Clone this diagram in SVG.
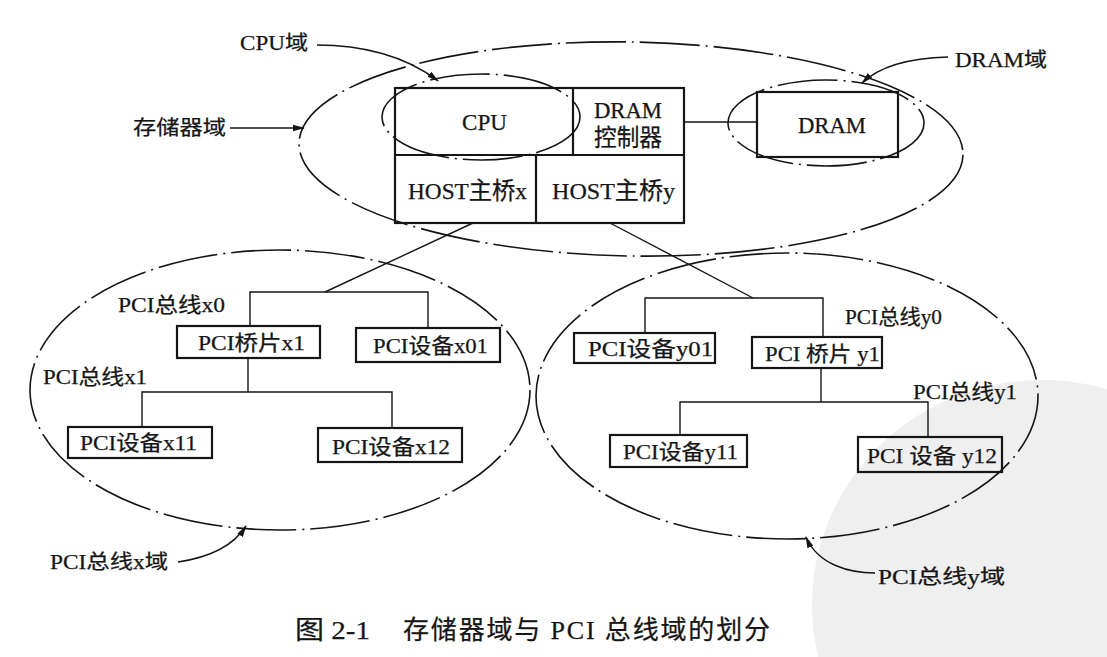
<svg xmlns="http://www.w3.org/2000/svg" width="1107" height="657" viewBox="0 0 1107 657">
<defs>
<style>
.t{font-family:'Liberation Serif','Noto Sans CJK SC',serif;fill:#151515;stroke:#151515;stroke-width:0.25}
.b{font-size:24px}
.l{font-size:21px}
.d{font-size:20px}
.c{font-size:26px}
.box{fill:none;stroke:#151515;stroke-width:2.2}
.dom{fill:none;stroke:#151515;stroke-width:1.6;stroke-dasharray:60 6 2 6}
.ln{fill:none;stroke:#151515;stroke-width:1.4}
</style>
<marker id="ah" viewBox="0 0 12 10" refX="11" refY="5" markerWidth="12" markerHeight="10" markerUnits="userSpaceOnUse" orient="auto"><path d="M0,1.8 L12,5 L0,8.2 z" fill="#151515"/></marker>
</defs>
<rect width="1107" height="657" fill="#fff"/>
<g id="watermark"><ellipse cx="1042" cy="605" rx="230" ry="225" fill="#efefef"/></g>

<g id="storage-domain"><ellipse class="dom" cx="631" cy="149" rx="332" ry="107" transform="rotate(1 631 149)"/></g>
<g id="pci-x-domain"><ellipse class="dom" cx="280" cy="390" rx="250" ry="140"/></g>
<g id="pci-y-domain"><ellipse class="dom" cx="787" cy="396" rx="251" ry="143"/></g>

<g id="host-block">
<rect class="box" x="395" y="88" width="289" height="135"/>
<path class="box" d="M573,88 L573,155 M395,155 L684,155 M536,155 L536,223"/>
</g>
<g id="cpu"><text class="t b" x="462" y="130" textLength="45" lengthAdjust="spacingAndGlyphs">CPU</text></g>
<g id="dram-ctrl"><text class="t b" x="594" y="118" textLength="68" lengthAdjust="spacingAndGlyphs">DRAM</text><text class="t b" x="594" y="146" textLength="68" lengthAdjust="spacingAndGlyphs">控制器</text></g>
<g id="host-x"><text class="t b" x="408" y="199" textLength="119" lengthAdjust="spacingAndGlyphs">HOST主桥x</text></g>
<g id="host-y"><text class="t b" x="552" y="199" textLength="123" lengthAdjust="spacingAndGlyphs">HOST主桥y</text></g>
<g id="cpu-domain"><ellipse class="dom" cx="481" cy="117" rx="99" ry="43"/></g>
<g id="dram"><rect class="box" x="757" y="92" width="141" height="65"/><text class="t b" x="798" y="133" textLength="68" lengthAdjust="spacingAndGlyphs">DRAM</text></g>
<g id="dram-domain"><ellipse class="dom" cx="826" cy="123" rx="98" ry="43"/></g>

<g id="bridge-x1"><rect class="box" x="177" y="326" width="143" height="32"/><text class="t l" x="198" y="350" textLength="107" lengthAdjust="spacingAndGlyphs">PCI桥片x1</text></g>
<g id="dev-x01"><rect class="box" x="356" y="328" width="144" height="34"/><text class="t l" x="373" y="353" textLength="115" lengthAdjust="spacingAndGlyphs">PCI设备x01</text></g>
<g id="dev-x11"><rect class="box" x="68" y="427" width="144" height="31"/><text class="t l" x="80" y="450" textLength="117" lengthAdjust="spacingAndGlyphs">PCI设备x11</text></g>
<g id="dev-x12"><rect class="box" x="318" y="428" width="144" height="34"/><text class="t l" x="332" y="454" textLength="118" lengthAdjust="spacingAndGlyphs">PCI设备x12</text></g>
<g id="dev-y01"><rect class="box" x="574" y="333" width="141" height="30"/><text class="t l" x="588" y="356" textLength="125" lengthAdjust="spacingAndGlyphs">PCI设备y01</text></g>
<g id="bridge-y1"><rect class="box" x="752" y="337" width="130" height="31"/><text class="t l" x="765" y="361" textLength="115" lengthAdjust="spacingAndGlyphs">PCI 桥片 y1</text></g>
<g id="dev-y11"><rect class="box" x="610" y="435" width="137" height="32"/><text class="t l" x="623" y="459" textLength="115" lengthAdjust="spacingAndGlyphs">PCI设备y11</text></g>
<g id="dev-y12"><rect class="box" x="858" y="437" width="144" height="35"/><text class="t l" x="867" y="463" textLength="130" lengthAdjust="spacingAndGlyphs">PCI 设备 y12</text></g>

<g id="labels">
<text class="t d" x="240" y="50" textLength="68" lengthAdjust="spacingAndGlyphs">CPU域</text>
<text class="t d" x="133" y="135" textLength="93" lengthAdjust="spacingAndGlyphs">存储器域</text>
<text class="t d" x="955" y="67" textLength="92" lengthAdjust="spacingAndGlyphs">DRAM域</text>
<text class="t l" x="118" y="312" textLength="107" lengthAdjust="spacingAndGlyphs">PCI总线x0</text>
<text class="t l" x="43" y="384" textLength="104" lengthAdjust="spacingAndGlyphs">PCI总线x1</text>
<text class="t l" x="845" y="324" textLength="97" lengthAdjust="spacingAndGlyphs">PCI总线y0</text>
<text class="t l" x="913" y="399" textLength="104" lengthAdjust="spacingAndGlyphs">PCI总线y1</text>
<text class="t d" x="50" y="569" textLength="118" lengthAdjust="spacingAndGlyphs">PCI总线x域</text>
<text class="t d" x="878" y="584" textLength="127" lengthAdjust="spacingAndGlyphs">PCI总线y域</text>
<text class="t c" x="295" y="639" textLength="75" lengthAdjust="spacingAndGlyphs">图 2-1</text>
<text class="t c" x="403" y="639" textLength="367" lengthAdjust="spacing">存储器域与 PCI 总线域的划分</text>
</g>

<g id="connectors">
<path class="ln" d="M684,122 L757,122"/>
<path class="ln" d="M473,223 L325,292"/>
<path class="ln" d="M610,223 L753,298"/>
<path class="ln" d="M250,326 L250,292 L428,292 L428,328"/>
<path class="ln" d="M248,358 L248,392"/>
<path class="ln" d="M142,427 L142,392 L392,392 L392,428"/>
<path class="ln" d="M645,333 L645,298 L823,298 L823,337"/>
<path class="ln" d="M821,368 L821,402"/>
<path class="ln" d="M680,435 L680,402 L928,402 L928,437"/>
<path class="ln" d="M317,45 C360,45 405,55 438,81" marker-end="url(#ah)"/>
<path class="ln" d="M230,128 L304,128" marker-end="url(#ah)"/>
<path class="ln" d="M948,57 C910,58 880,66 862,83" marker-end="url(#ah)"/>
<path class="ln" d="M178,562 C205,558 232,548 246,526" marker-end="url(#ah)"/>
<path class="ln" d="M875,573 C850,573 818,565 806,537" marker-end="url(#ah)"/>
</g>
</svg>
